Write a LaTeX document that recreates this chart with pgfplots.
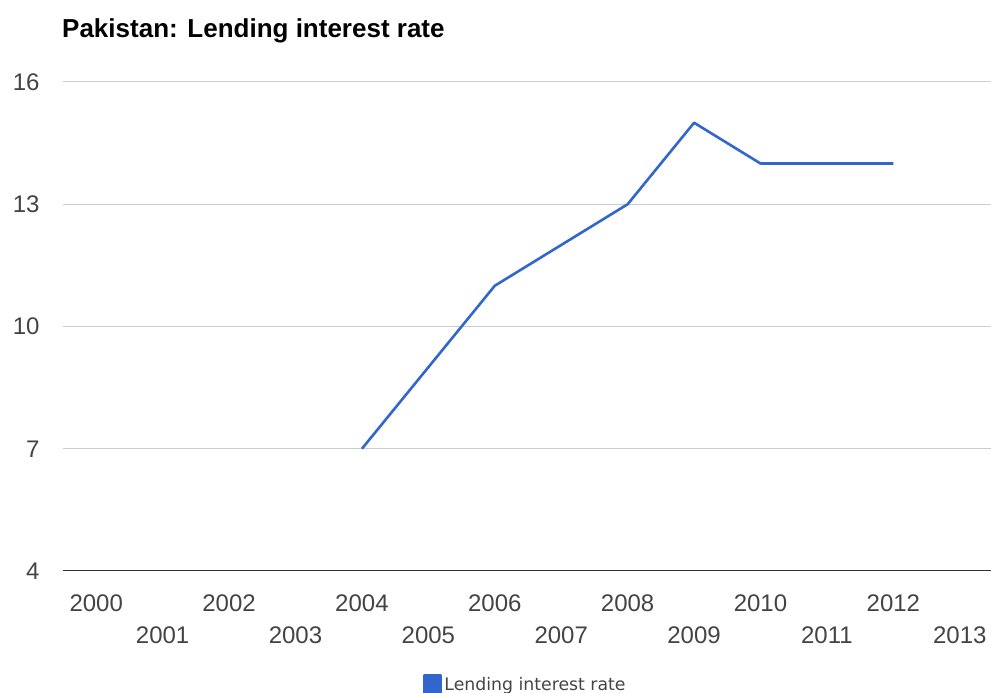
\documentclass[border=0pt]{standalone}
\usepackage{pgfplots}
\pgfplotsset{compat=1.18}
\usepackage{fontspec}
\setmainfont{Liberation Sans}
\newfontfamily\legfont{DejaVu Sans}
\definecolor{c1}{HTML}{3366CC}
\definecolor{tk}{HTML}{444444}
\definecolor{gridc}{HTML}{CCCCCC}
\begin{document}
\begin{tikzpicture}
\useasboundingbox (0pt,0pt) rectangle (991pt,693pt);
\begin{axis}[
  at={(63pt,122pt)}, anchor=south west,
  scale only axis, width=930pt, height=489pt,
  xmin=1999.5, xmax=2013.5, ymin=4, ymax=16,
  axis line style={draw=none},
  ytick={4,7,10,13,16},
  xtick={2000,2002,2004,2006,2008,2010,2012},
  extra x ticks={2001,2003,2005,2007,2009,2011,2013},
  extra x tick style={xticklabel style={yshift=-32pt}},
  major tick length=0pt,
  ymajorgrids, grid style={gridc, line width=1pt},
  extra x tick style={grid=none},
  /pgf/number format/assume math mode=true,
  /pgf/number format/1000 sep={},
  tick label style={font=\fontsize{24}{28}\selectfont, text=tk},
  xticklabel style={yshift=-20pt},
  yticklabel style={xshift=-20pt},
  legend style={at={(0.497,-0.231)}, anchor=center, draw=none, fill=none,
    font=\legfont\fontsize{17.3}{20}\selectfont, text=tk},
  legend image code/.code={\fill[c1] (-4pt,-8pt) rectangle (13pt,9pt);},
]
\draw[black!80, line width=1.2pt] (axis cs:1999.5,4) -- (axis cs:2013.5,4);
\addplot[c1, line width=2.6pt, line join=round] coordinates {
  (2004,7) (2005,9) (2006,11) (2007,12) (2008,13) (2009,15) (2010,14) (2011,14) (2012,14)
};
\addlegendentry{Lending interest rate}
\end{axis}
\node[anchor=west, inner sep=0pt, font=\fontsize{26}{30}\selectfont\bfseries] at (62pt,662pt) {Pakistan: Lending interest rate};
\end{tikzpicture}
\end{document}
